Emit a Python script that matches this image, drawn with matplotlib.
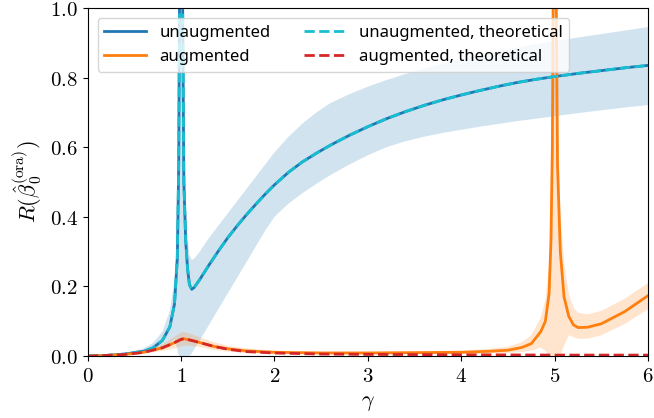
"""
Risk of the oracle estimator vs. aspect ratio gamma.
"""

import matplotlib.pyplot as plt
from matplotlib.ticker import FuncFormatter

plt.rcParams["mathtext.fontset"] = "cm"
plt.rcParams["font.family"] = ["Noto Sans", "DejaVu Sans"]

FIGSIZE = (6.54, 4.18)

# unaugmented, empirical mean and band
gamma_u = [0, 0.2, 0.4, 0.6, 0.7, 0.8, 0.88, 0.93, 0.96, 0.975, 0.985, 1.0,
           1.015, 1.03, 1.05, 1.07, 1.09, 1.115, 1.14, 1.2, 1.3, 1.4, 1.5,
           1.6, 1.7, 1.8, 1.9, 2.0, 2.15, 2.3, 2.45, 2.6, 2.8, 3.0, 3.2, 3.4,
           3.6, 3.8, 4.0, 4.2, 4.4, 4.6, 4.8, 5.0, 5.25, 5.5, 5.75, 6.0]
risk_u = [0, 0.002, 0.006, 0.014, 0.024, 0.045, 0.084, 0.15, 0.28, 0.55, 1.1,
          3.0, 1.1, 0.5, 0.33, 0.25, 0.205, 0.192, 0.197, 0.22, 0.262, 0.302,
          0.34, 0.374, 0.406, 0.436, 0.465, 0.492, 0.528, 0.558, 0.583, 0.606,
          0.634, 0.659, 0.682, 0.702, 0.72, 0.736, 0.75, 0.763, 0.775, 0.786,
          0.795, 0.803, 0.812, 0.82, 0.828, 0.835]
upper_u = [0, 0.003, 0.009, 0.022, 0.038, 0.07, 0.13, 0.22, 0.4, 0.75, 1.5,
           3.5, 1.5, 0.7, 0.45, 0.34, 0.29, 0.276, 0.28, 0.3, 0.34, 0.375,
           0.41, 0.445, 0.48, 0.515, 0.55, 0.585, 0.63, 0.668, 0.7, 0.727,
           0.752, 0.774, 0.793, 0.81, 0.826, 0.84, 0.853, 0.865, 0.876, 0.886,
           0.896, 0.905, 0.915, 0.925, 0.935, 0.945]
lower_u = [0, 0.001, 0.004, 0.008, 0.012, 0.02, 0.035, 0.05, 0.02, 0, 0, 0,
           0, 0, 0, 0, 0, 0.008, 0.02, 0.045, 0.09, 0.135, 0.18, 0.225, 0.27,
           0.315, 0.36, 0.4, 0.438, 0.468, 0.495, 0.52, 0.55, 0.577, 0.6,
           0.617, 0.63, 0.641, 0.65, 0.659, 0.667, 0.675, 0.682, 0.689, 0.698,
           0.706, 0.714, 0.721]
theory_u = risk_u

# augmented, empirical mean and band
gamma_a = [0, 0.2, 0.4, 0.6, 0.8, 0.9, 1.0, 1.03, 1.1, 1.2, 1.35, 1.5, 1.7,
           2.0, 2.5, 3.0, 3.5, 4.0, 4.3, 4.5, 4.65, 4.75, 4.85, 4.9, 4.94,
           4.96, 4.975, 4.985, 5.0, 5.015, 5.03, 5.06, 5.1, 5.15, 5.2, 5.25,
           5.35, 5.5, 5.75, 6.0]
risk_a = [0, 0.002, 0.005, 0.011, 0.024, 0.035, 0.048, 0.05, 0.046, 0.039,
          0.028, 0.021, 0.015, 0.011, 0.009, 0.009, 0.010, 0.011, 0.014,
          0.017, 0.025, 0.036, 0.07, 0.1, 0.18, 0.33, 0.6, 1.1, 3.0, 1.1,
          0.55, 0.3, 0.17, 0.115, 0.09, 0.082, 0.083, 0.093, 0.128, 0.174]
upper_a = [0, 0.003, 0.007, 0.015, 0.034, 0.05, 0.068, 0.07, 0.064, 0.054,
           0.04, 0.03, 0.022, 0.016, 0.013, 0.013, 0.014, 0.016, 0.021, 0.027,
           0.04, 0.06, 0.11, 0.16, 0.26, 0.45, 0.8, 1.4, 3.5, 1.4, 0.75, 0.42,
           0.27, 0.18, 0.14, 0.125, 0.12, 0.13, 0.165, 0.21]
lower_a = [0, 0.001, 0.003, 0.007, 0.015, 0.02, 0.028, 0.03, 0.03, 0.026,
           0.018, 0.013, 0.009, 0.007, 0.006, 0.006, 0.006, 0.006, 0.008,
           0.009, 0.012, 0.016, 0.025, 0.015, 0, 0, 0, 0, 0, 0, 0, 0, 0.03,
           0.06, 0.055, 0.05, 0.05, 0.06, 0.092, 0.135]

# augmented, theoretical
gamma_t = [0, 0.2, 0.4, 0.6, 0.8, 0.9, 1.0, 1.03, 1.1, 1.2, 1.35, 1.5, 1.7,
           2.0, 2.5, 3.0, 4.0, 5.0, 6.0]
theory_a = [0, 0.002, 0.005, 0.011, 0.024, 0.035, 0.048, 0.05, 0.046, 0.039,
            0.028, 0.02, 0.013, 0.009, 0.006, 0.005, 0.004, 0.003, 0.003]

fig, ax = plt.subplots(figsize=FIGSIZE, dpi=100)
fig.subplots_adjust(left=0.134, right=0.991, top=0.981, bottom=0.148)

ax.fill_between(gamma_u, lower_u, upper_u, color="tab:blue", alpha=0.2,
                linewidth=0)
ax.fill_between(gamma_a, lower_a, upper_a, color="tab:orange", alpha=0.2,
                linewidth=0)
ax.plot(gamma_u, risk_u, color="tab:blue", lw=2, label="unaugmented")
ax.plot(gamma_a, risk_a, color="tab:orange", lw=2, label="augmented")
ax.plot(gamma_u, theory_u, color="tab:cyan", lw=2, ls="--",
        label="unaugmented, theoretical")
ax.plot(gamma_t, theory_a, color="tab:red", lw=2, ls="--",
        label="augmented, theoretical")

ax.set_xlim(0, 6)
ax.set_ylim(0, 1)
ax.set_xticks(range(7))
ax.set_yticks([0, 0.2, 0.4, 0.6, 0.8, 1.0])
ax.xaxis.set_major_formatter(FuncFormatter(lambda v, p: f"${v:g}$"))
ax.yaxis.set_major_formatter(FuncFormatter(lambda v, p: f"${v:.1f}$"))
ax.tick_params(labelsize=15)
ax.set_xlabel(r"$\gamma$", fontsize=16)
ax.set_ylabel(r"$R(\hat{\beta}_0^{(\mathrm{ora})})$", fontsize=16)

ax.legend(loc="upper left", ncol=2, fontsize=12, handlelength=2.5,
          columnspacing=2.0, borderaxespad=0.6)

plt.savefig("out.png")
